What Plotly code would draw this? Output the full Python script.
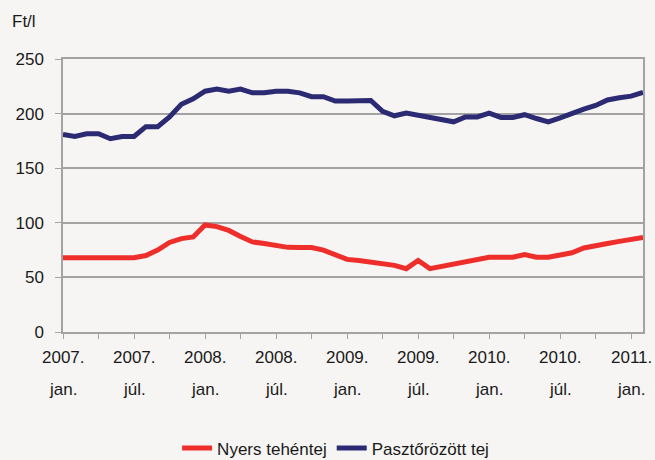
import plotly.graph_objects as go

months = list(range(50))  # 2007 jan .. 2011 feb

nyers = [68, 68, 68, 68, 68, 68, 68, 70, 75, 82, 85.5, 87, 98, 96.5, 93, 87.5,
         82.5, 81, 79.5, 77.5, 77.3, 77.3, 75, 71, 66.5, 65.5, 64, 62.5, 61, 58,
         65.5, 58, 60, 63, 65, 67, 68.5, 68.5, 68.5, 71, 68.5, 68.5, 70, 72.5,
         77, 79.5, 81, 83, 84.5, 86.5]

paszt = [181, 179, 181.5, 181.5, 177, 179, 179, 188, 188, 197, 208.5, 213.5,
         220.5, 222.5, 220.5, 222.5, 219, 219, 220.5, 220.5, 219, 215.5, 215.5,
         211.5, 211.5, 211.5, 212, 202, 198, 200.5, 198.5, 196.5, 194.5, 192.5,
         197, 197, 200.5, 196.5, 196.5, 199, 195.5, 192.5, 196, 200.5, 204,
         207.5, 212.5, 214.5, 216, 219.5]

tick_pos = [0, 6, 12, 18, 24, 30, 36, 42, 48]
tick_years = ["2007.", "2007.", "2008.", "2008.", "2009.", "2009.", "2010.", "2010.", "2011."]
tick_months = ["jan.", "júl.", "jan.", "júl.", "jan.", "júl.", "jan.", "júl.", "jan."]

FONT = "Liberation Sans, Arial, sans-serif"
FS = 17
TXT = "#1a1a1a"
GRID = "#a3a3a3"
BG = "#f6f5f3"

fig = go.Figure()
fig.add_trace(go.Scatter(x=months, y=nyers, mode="lines", name="Nyers tehéntej",
                         line=dict(color="#ee2e2b", width=5)))
fig.add_trace(go.Scatter(x=months, y=paszt, mode="lines", name="Pasztőrözött tej",
                         line=dict(color="#2c2a72", width=5)))

annotations = []
for p, yr, mo in zip(tick_pos, tick_years, tick_months):
    annotations.append(dict(x=p, xref="x", y=0, yref="paper", text=yr, showarrow=False,
                            xanchor="center", yanchor="middle", yshift=-25,
                            font=dict(family=FONT, size=FS, color=TXT)))
    annotations.append(dict(x=p, xref="x", y=0, yref="paper", text=mo, showarrow=False,
                            xanchor="center", yanchor="middle", yshift=-57,
                            font=dict(family=FONT, size=FS, color=TXT)))
annotations.append(dict(x=0, xref="paper", y=1, yref="paper", text="Ft/l", showarrow=False,
                        xanchor="left", yanchor="middle", xshift=-53, yshift=38,
                        font=dict(family=FONT, size=FS, color=TXT)))

fig.update_layout(
    width=655, height=460,
    paper_bgcolor=BG, plot_bgcolor=BG,
    margin=dict(l=63, r=12, t=59, b=128, autoexpand=False),
    font=dict(family=FONT, size=FS, color=TXT),
    showlegend=True,
    legend=dict(orientation="h", x=0.47, xanchor="center", y=-0.427, yanchor="middle",
                bgcolor="rgba(0,0,0,0)", font=dict(family=FONT, size=FS, color=TXT),
                tracegroupgap=0),
    annotations=annotations,
    xaxis=dict(range=[0, 49], tickmode="array", tickvals=list(range(0, 49, 3)),
               showticklabels=False, ticks="outside", ticklen=5, tickcolor=GRID,
               showgrid=False, zeroline=False, showline=True, linecolor=GRID,
               linewidth=1.5, mirror=True, automargin=False),
    yaxis=dict(range=[0, 250], dtick=50, ticks="outside", ticklen=6, tickcolor=GRID,
               showgrid=True, gridcolor=GRID, gridwidth=1.5, zeroline=False,
               showline=True, linecolor=GRID, linewidth=1.5, mirror=True,
               automargin=False, ticklabelstandoff=8,
               tickfont=dict(family=FONT, size=FS, color=TXT)),
)

fig.write_html("out.html", config={"displayModeBar": False},
               post_script="document.body.style.margin='0';document.body.style.background='%s';" % BG)
